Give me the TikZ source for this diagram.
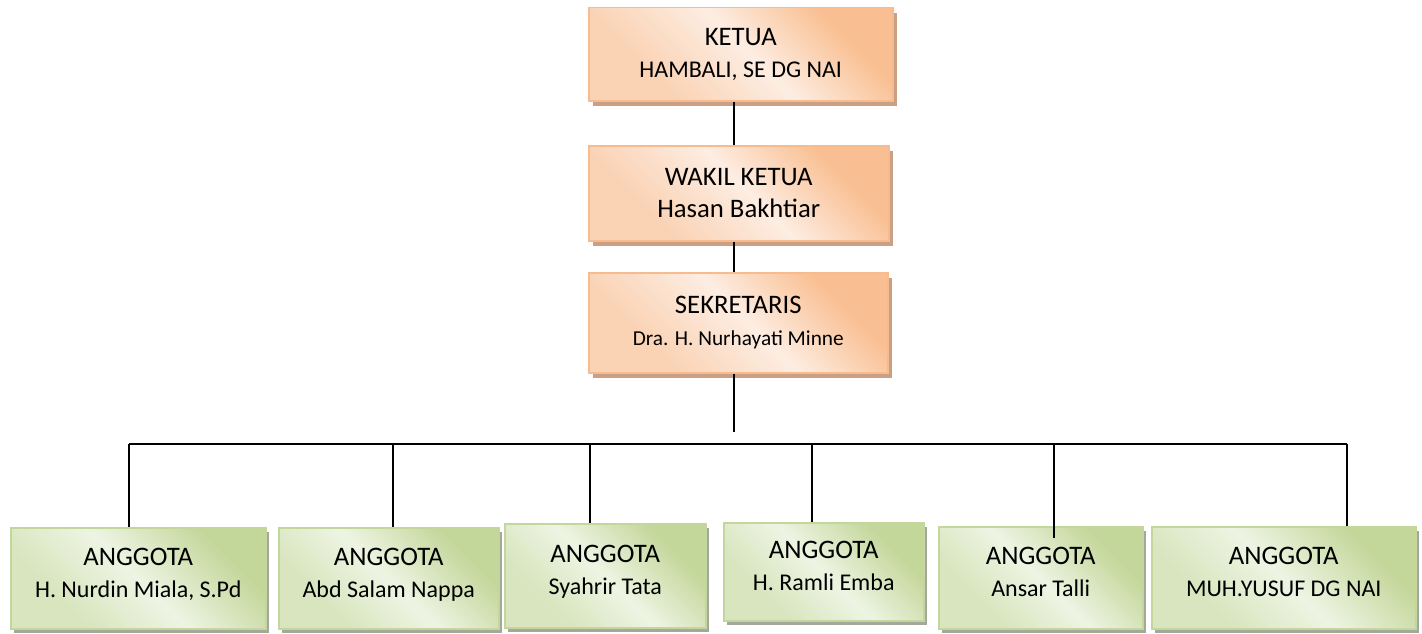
\documentclass[tikz,border=0pt]{standalone}
\usepackage{fontspec}
\setmainfont{Carlito}
\usepackage{tikz}
\usetikzlibrary{shadows,positioning}
\definecolor{orgLine}{HTML}{F7BB8E}
\definecolor{orgDark}{HTML}{F9BF92}
\definecolor{orgLight}{HTML}{FDEDE2}
\definecolor{orgMid}{HTML}{FAD2B4}
\definecolor{orgShadow}{HTML}{C9A084}
\definecolor{grnLine}{HTML}{C3D69B}
\definecolor{grnDark}{HTML}{C4D79B}
\definecolor{grnLight}{HTML}{EEF4E3}
\definecolor{grnMid}{HTML}{D8E5BE}
\definecolor{grnShadow}{HTML}{A3A89A}
\pgfdeclareverticalshading{orgshade}{100bp}{color(0bp)=(orgMid); color(30bp)=(orgMid); color(52bp)=(orgLight); color(72bp)=(orgDark); color(100bp)=(orgDark)}
\pgfdeclareverticalshading{grnshade}{100bp}{color(0bp)=(grnMid); color(30bp)=(grnMid); color(50bp)=(grnLight); color(72bp)=(grnDark); color(100bp)=(grnDark)}
\newcommand{\jab}[3][24]{#2\\{\fontsize{#1}{32}\selectfont #3}}

\begin{document}
\begin{tikzpicture}
  [
    x=1pt, y=-1pt,
    Orange/.style={rectangle, draw=orgLine, line width=1.5pt, align=center, anchor=north west,
      font=\fontsize{26.7}{32}\selectfont, shade, shading=orgshade, shading angle=-45,
      drop shadow={shadow xshift=4pt, shadow yshift=-5pt, fill=orgShadow, opacity=1}},
    Green/.style={rectangle, draw=grnLine, line width=1.5pt, align=center, anchor=north west,
      font=\fontsize{26.7}{32}\selectfont, shade, shading=grnshade, shading angle=-45,
      drop shadow={shadow xshift=3pt, shadow yshift=-4pt, fill=grnShadow, opacity=1}},
    Link/.style={draw, line width=1.4pt}
  ]
  \useasboundingbox (0,0) rectangle (1422,634);
  % Nodes
  \node[Orange, minimum width=304pt, minimum height=93pt] (ketua) at (588,7) {\jab{KETUA}{HAMBALI, SE DG NAI}};
  \node[Orange, minimum width=300pt, minimum height=95pt] (wakil) at (588,145) {\jab[26.7]{WAKIL KETUA}{Hasan Bakhtiar}};
  \node[Orange, minimum width=299pt, minimum height=100pt] (sekretaris) at (588,272) {\jab[21.3]{SEKRETARIS}{Dra. H. Nurhayati Minne}};
  % Lines
  \coordinate (turun) at (734,432);
  \coordinate (b1) at (129,444);
  \coordinate (b2) at (393,444);
  \coordinate (b3) at (590,444);
  \coordinate (b4) at (812,444);
  \coordinate (b5) at (1054,444);
  \coordinate (b6) at (1347,444);
  \path [Link] (ketua.south -| turun) -- (wakil.north -| turun);
  \path [Link] (wakil.south -| turun) -- (sekretaris.north -| turun);
  \path [Link] (sekretaris.south -| turun) -- (turun);
  \path [Link] (b1) -- (b6);
  \node[Green, minimum width=255pt, minimum height=101pt] (a1) at (10,527) {\jab{ANGGOTA}{H. Nurdin Miala, S.Pd}\\[-21pt]};
  \node[Green, minimum width=220pt, minimum height=101pt] (a2) at (278,527) {\jab{ANGGOTA}{Abd Salam Nappa}\\[-21pt]};
  \node[Green, minimum width=201pt, minimum height=104pt] (a3) at (504,523) {\jab{ANGGOTA}{Syahrir Tata}\\[-21pt]};
  \node[Green, minimum width=200pt, minimum height=98pt] (a4) at (723,522) {\jab{ANGGOTA}{H. Ramli Emba}\\[-21pt]};
  \node[Green, minimum width=204pt, minimum height=102pt] (a5) at (938,526) {\jab{ANGGOTA}{Ansar Talli}\\[-21pt]};
  \node[Green, minimum width=264pt, minimum height=102pt] (a6) at (1151,526) {\jab{ANGGOTA}{MUH.YUSUF DG NAI}\\[-21pt]};
  \path [Link] (b1) -- (b1 |- a1.north);
  \path [Link] (b2) -- (b2 |- a2.north);
  \path [Link] (b3) -- (b3 |- a3.north);
  \path [Link] (b4) -- (b4 |- a4.north);
  \path [Link] (b5) -- ([yshift=-12pt]b5 |- a5.north);
  \path [Link] (b6) -- (b6 |- a6.north);
\end{tikzpicture}
\end{document}
